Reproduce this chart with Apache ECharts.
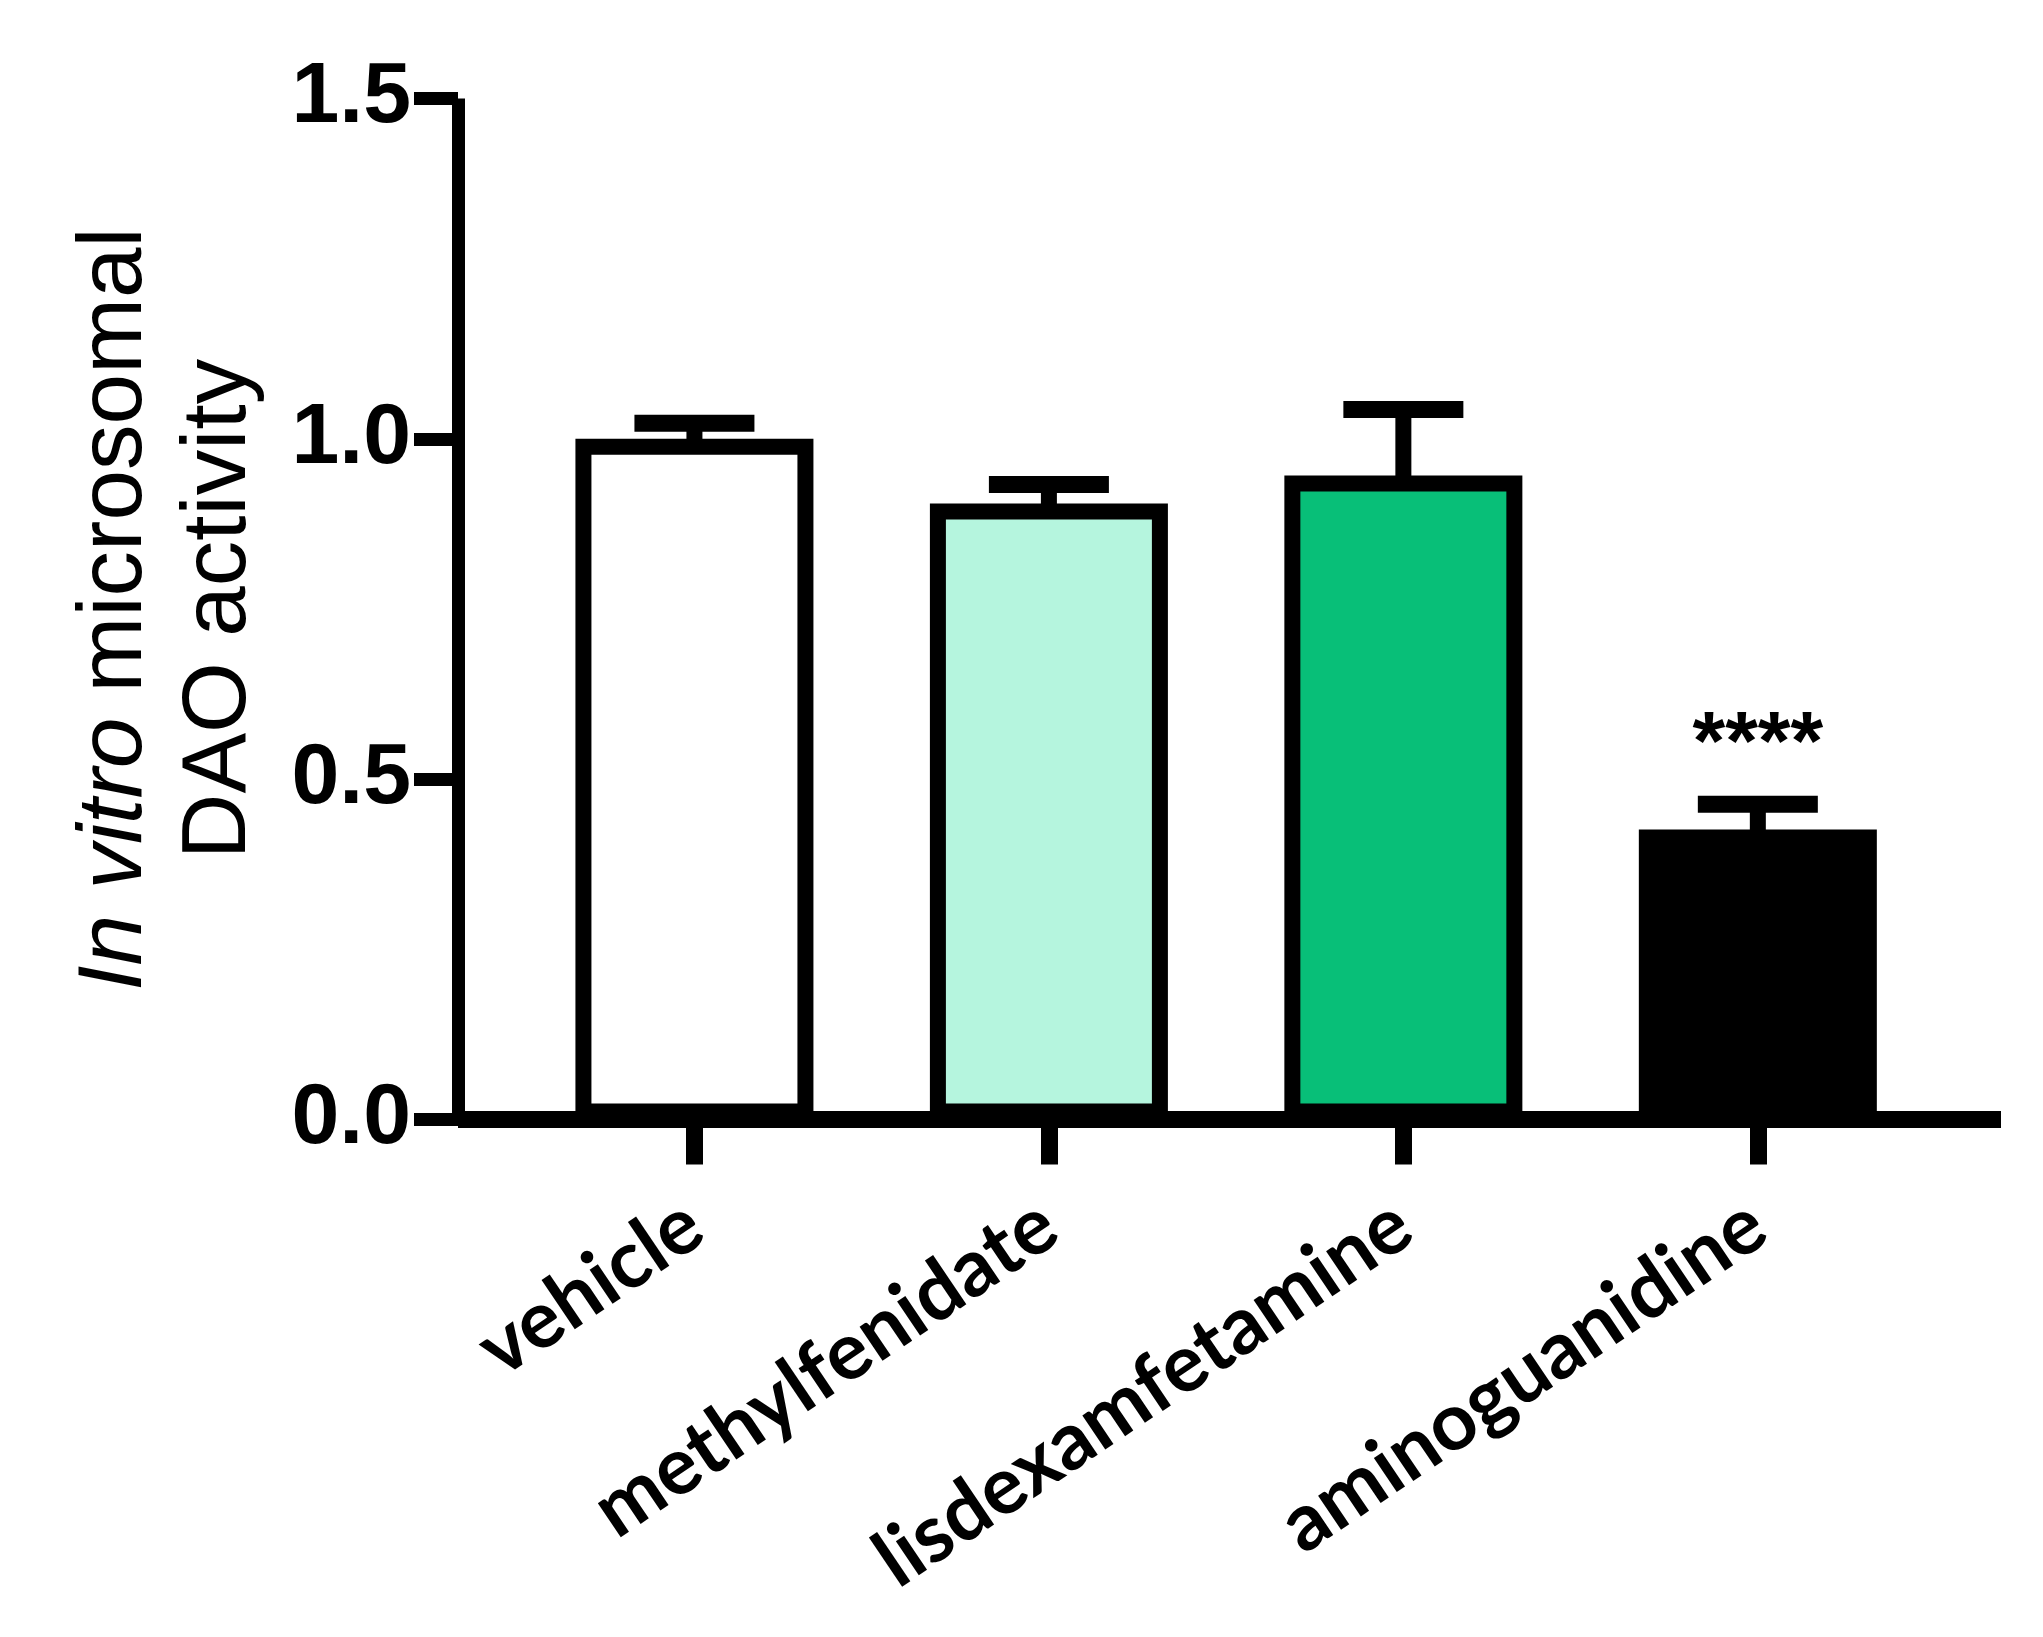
<!DOCTYPE html>
<html>
<head>
<meta charset="utf-8">
<script src="https://cdn.jsdelivr.net/npm/echarts@6/dist/echarts.min.js"></script>
<style>
html,body{margin:0;padding:0;background:#fff;}
#chart{width:2043px;height:1637px;}
</style>
</head>
<body>
<div id="chart"></div>
<script>
const categories = ['vehicle', 'methylfenidate', 'lisdexamfetamine', 'aminoguanidine'];
const means = [1.0, 0.905, 0.946, 0.426];
const errors = [0.023, 0.028, 0.097, 0.037];
const significance = ['', '', '', '****'];
const fills = ['#ffffff', '#b5f5de', '#08bf78', '#000000'];
const yTicks = [0, 0.5, 1.0, 1.5];
const positions = [0, 1, 2, 3];

const chart = echarts.init(document.getElementById('chart'), null, {renderer: 'canvas'});

const barData = categories.map((c, i) => ({
  value: [positions[i], means[i]],
  itemStyle: {color: fills[i]}
}));
const errData = categories.map((c, i) => [positions[i], means[i], means[i] + errors[i], i]);

chart.setOption({
  backgroundColor: '#ffffff',
  animation: false,
  grid: {left: 458, right: 42, top: 98.5, bottom: 517.5, containLabel: false},
  xAxis: {
    type: 'value',
    min: -0.667,
    max: 3.686,
    splitLine: {show: false},
    axisLine: {show: true, onZero: false, lineStyle: {color: '#000', width: 17, cap: 'butt'}},
    axisTick: {show: true, customValues: positions, length: 45, lineStyle: {color: '#000', width: 17}},
    axisLabel: {
      customValues: positions,
      formatter: v => categories[Math.round(v)],
      rotate: 34,
      margin: 98,
      color: '#000',
      fontFamily: 'Lato',
      fontWeight: 'bold',
      fontSize: 80
    }
  },
  yAxis: {
    type: 'value',
    min: 0,
    max: 1.5,
    interval: 0.5,
    splitLine: {show: false},
    axisLine: {show: true, onZero: false, lineStyle: {color: '#000', width: 13, cap: 'butt'}},
    axisTick: {show: true, length: 44, lineStyle: {color: '#000', width: 13}},
    axisLabel: {
      formatter: v => v.toFixed(1),
      margin: 47,
      color: '#000',
      fontFamily: 'Liberation Sans',
      fontWeight: 'bold',
      fontSize: 86
    },
    name: '{i|In vitro} {n|microsomal}\n{n|DAO activity}',
    nameLocation: 'middle',
    nameRotate: 90,
    nameGap: 186,
    nameTextStyle: {
      color: '#000',
      fontFamily: 'Liberation Sans',
      fontSize: 91,
      lineHeight: 104,
      rich: {
        i: {fontStyle: 'italic', fontFamily: 'Liberation Sans', fontSize: 91, lineHeight: 104, color: '#000'},
        n: {fontFamily: 'Liberation Sans', fontSize: 91, lineHeight: 104, color: '#000'}
      }
    }
  },
  series: [
    {
      type: 'custom',
      z: 1,
      data: errData,
      renderItem: function (params, api) {
        const x = api.value(0);
        const base = api.coord([x, api.value(1)]);
        const top = api.coord([x, api.value(2)]);
        const idx = api.value(3);
        const children = [
          {type: 'line', shape: {x1: top[0], y1: base[1] + 4, x2: top[0], y2: top[1]}, style: {stroke: '#000', lineWidth: 16}},
          {type: 'line', shape: {x1: top[0] - 60, y1: top[1], x2: top[0] + 60, y2: top[1]}, style: {stroke: '#000', lineWidth: 17}}
        ];
        const sig = significance[idx];
        if (sig) {
          children.push({
            type: 'text',
            style: {
              text: sig, x: top[0], y: top[1] - 58,
              align: 'center', verticalAlign: 'middle',
              fontFamily: 'Liberation Sans', fontWeight: 'bold', fontSize: 84, fill: '#000'
            }
          });
        }
        return {type: 'group', children: children};
      }
    },
    {
      type: 'bar',
      z: 2,
      data: barData,
      barWidth: 238,
      itemStyle: {borderColor: '#000', borderWidth: 16}
    }
  ]
});
</script>
</body>
</html>
